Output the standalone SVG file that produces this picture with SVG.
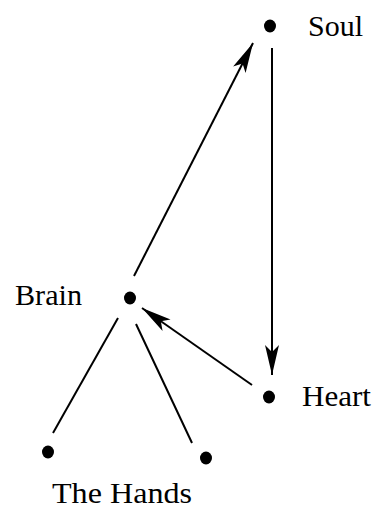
<svg xmlns="http://www.w3.org/2000/svg" width="373" height="510" viewBox="0 0 373 510">
<style>
  .lbl { font-family: "Liberation Serif", "Times New Roman", serif; font-size: 29px; fill: #000; }
  .dot { fill: #000; }
  .edge { stroke: #000; stroke-width: 2; fill: none; }
</style>
<defs>
  <marker id="arr" viewBox="-32 -9 34 18" refX="0" refY="0" markerWidth="34" markerHeight="18" markerUnits="userSpaceOnUse" orient="auto">
    <path d="M0,0 L-30,-7 L-23,0 L-30,7 Z" fill="#000"/>
  </marker>
</defs>
<rect width="373" height="510" fill="#fff"/>
<g id="connectors">
  <line class="edge" x1="134" y1="276" x2="253" y2="43" marker-end="url(#arr)"/>
  <line class="edge" x1="272" y1="48" x2="272" y2="375" marker-end="url(#arr)"/>
  <line class="edge" x1="252" y1="385" x2="142" y2="308" marker-end="url(#arr)"/>
  <line class="edge" x1="118" y1="318" x2="53" y2="433"/>
  <line class="edge" x1="136" y1="324" x2="192" y2="443"/>
</g>
<g id="soul">
  <ellipse class="dot" cx="270" cy="26" rx="6" ry="6.5"/>
  <text class="lbl" x="308" y="36" textLength="55" lengthAdjust="spacingAndGlyphs">Soul</text>
</g>
<g id="brain">
  <ellipse class="dot" cx="130" cy="298" rx="6" ry="6.5"/>
  <text class="lbl" x="15" y="305" textLength="67" lengthAdjust="spacingAndGlyphs">Brain</text>
</g>
<g id="heart">
  <ellipse class="dot" cx="269" cy="397" rx="6" ry="6.5"/>
  <text class="lbl" x="302" y="406" textLength="69" lengthAdjust="spacingAndGlyphs">Heart</text>
</g>
<g id="hand-left">
  <ellipse class="dot" cx="48" cy="452" rx="6" ry="6.5"/>
</g>
<g id="hand-right">
  <ellipse class="dot" cx="206" cy="458" rx="6" ry="6.5"/>
</g>
<g id="hands-label">
  <text class="lbl" x="52" y="503" textLength="140" lengthAdjust="spacingAndGlyphs">The Hands</text>
</g>
</svg>
